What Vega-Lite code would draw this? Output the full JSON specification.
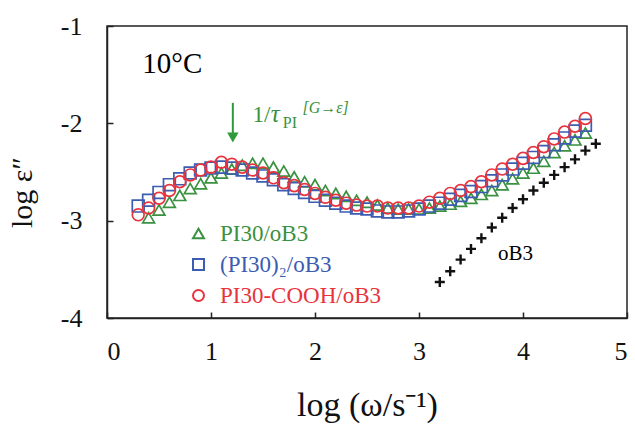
{
  "$schema": "https://vega.github.io/schema/vega-lite/v6.json",
  "autosize": {"type": "none"},
  "padding": {"left": 107, "top": 26, "right": 8, "bottom": 108},
  "width": 520,
  "height": 292,
  "background": "white",
  "config": {
    "font": "Liberation Serif",
    "view": {"stroke": "#222", "strokeWidth": 1.5},
    "axis": {"grid": false, "domainColor": "#222", "domainWidth": 1.5, "tickColor": "#222", "tickWidth": 1.5, "labelColor": "#111", "titleColor": "#111", "labelFont": "Liberation Serif", "titleFont": "Liberation Serif", "titleFontWeight": "normal"}
  },
  "datasets": {
    "series": [
      {"sample": "PI30/oB3", "logw": 0.4, "loge": -2.97},
      {"sample": "PI30/oB3", "logw": 0.5, "loge": -2.89},
      {"sample": "PI30/oB3", "logw": 0.6, "loge": -2.81},
      {"sample": "PI30/oB3", "logw": 0.7, "loge": -2.74},
      {"sample": "PI30/oB3", "logw": 0.8, "loge": -2.67},
      {"sample": "PI30/oB3", "logw": 0.9, "loge": -2.62},
      {"sample": "PI30/oB3", "logw": 1.0, "loge": -2.56},
      {"sample": "PI30/oB3", "logw": 1.1, "loge": -2.51},
      {"sample": "PI30/oB3", "logw": 1.2, "loge": -2.47},
      {"sample": "PI30/oB3", "logw": 1.3, "loge": -2.43},
      {"sample": "PI30/oB3", "logw": 1.4, "loge": -2.41},
      {"sample": "PI30/oB3", "logw": 1.5, "loge": -2.41},
      {"sample": "PI30/oB3", "logw": 1.6, "loge": -2.45},
      {"sample": "PI30/oB3", "logw": 1.7, "loge": -2.49},
      {"sample": "PI30/oB3", "logw": 1.8, "loge": -2.55},
      {"sample": "PI30/oB3", "logw": 1.9, "loge": -2.60},
      {"sample": "PI30/oB3", "logw": 2.0, "loge": -2.63},
      {"sample": "PI30/oB3", "logw": 2.1, "loge": -2.69},
      {"sample": "PI30/oB3", "logw": 2.2, "loge": -2.72},
      {"sample": "PI30/oB3", "logw": 2.3, "loge": -2.75},
      {"sample": "PI30/oB3", "logw": 2.4, "loge": -2.79},
      {"sample": "PI30/oB3", "logw": 2.5, "loge": -2.81},
      {"sample": "PI30/oB3", "logw": 2.6, "loge": -2.84},
      {"sample": "PI30/oB3", "logw": 2.7, "loge": -2.87},
      {"sample": "PI30/oB3", "logw": 2.8, "loge": -2.88},
      {"sample": "PI30/oB3", "logw": 2.9, "loge": -2.88},
      {"sample": "PI30/oB3", "logw": 3.0, "loge": -2.88},
      {"sample": "PI30/oB3", "logw": 3.1, "loge": -2.87},
      {"sample": "PI30/oB3", "logw": 3.2, "loge": -2.85},
      {"sample": "PI30/oB3", "logw": 3.3, "loge": -2.83},
      {"sample": "PI30/oB3", "logw": 3.4, "loge": -2.80},
      {"sample": "PI30/oB3", "logw": 3.5, "loge": -2.77},
      {"sample": "PI30/oB3", "logw": 3.6, "loge": -2.73},
      {"sample": "PI30/oB3", "logw": 3.7, "loge": -2.69},
      {"sample": "PI30/oB3", "logw": 3.8, "loge": -2.63},
      {"sample": "PI30/oB3", "logw": 3.9, "loge": -2.57},
      {"sample": "PI30/oB3", "logw": 4.0, "loge": -2.51},
      {"sample": "PI30/oB3", "logw": 4.1, "loge": -2.46},
      {"sample": "PI30/oB3", "logw": 4.2, "loge": -2.39},
      {"sample": "PI30/oB3", "logw": 4.3, "loge": -2.30},
      {"sample": "PI30/oB3", "logw": 4.4, "loge": -2.23},
      {"sample": "PI30/oB3", "logw": 4.5, "loge": -2.17},
      {"sample": "PI30/oB3", "logw": 4.6, "loge": -2.10},
      {"sample": "(PI30)₂/oB3", "logw": 0.3, "loge": -2.85},
      {"sample": "(PI30)₂/oB3", "logw": 0.4, "loge": -2.79},
      {"sample": "(PI30)₂/oB3", "logw": 0.5, "loge": -2.71},
      {"sample": "(PI30)₂/oB3", "logw": 0.6, "loge": -2.63},
      {"sample": "(PI30)₂/oB3", "logw": 0.7, "loge": -2.57},
      {"sample": "(PI30)₂/oB3", "logw": 0.8, "loge": -2.51},
      {"sample": "(PI30)₂/oB3", "logw": 0.9, "loge": -2.48},
      {"sample": "(PI30)₂/oB3", "logw": 1.0, "loge": -2.46},
      {"sample": "(PI30)₂/oB3", "logw": 1.1, "loge": -2.45},
      {"sample": "(PI30)₂/oB3", "logw": 1.2, "loge": -2.46},
      {"sample": "(PI30)₂/oB3", "logw": 1.3, "loge": -2.48},
      {"sample": "(PI30)₂/oB3", "logw": 1.4, "loge": -2.51},
      {"sample": "(PI30)₂/oB3", "logw": 1.5, "loge": -2.54},
      {"sample": "(PI30)₂/oB3", "logw": 1.6, "loge": -2.58},
      {"sample": "(PI30)₂/oB3", "logw": 1.7, "loge": -2.63},
      {"sample": "(PI30)₂/oB3", "logw": 1.8, "loge": -2.67},
      {"sample": "(PI30)₂/oB3", "logw": 1.9, "loge": -2.71},
      {"sample": "(PI30)₂/oB3", "logw": 2.0, "loge": -2.75},
      {"sample": "(PI30)₂/oB3", "logw": 2.1, "loge": -2.79},
      {"sample": "(PI30)₂/oB3", "logw": 2.2, "loge": -2.82},
      {"sample": "(PI30)₂/oB3", "logw": 2.3, "loge": -2.85},
      {"sample": "(PI30)₂/oB3", "logw": 2.4, "loge": -2.87},
      {"sample": "(PI30)₂/oB3", "logw": 2.5, "loge": -2.88},
      {"sample": "(PI30)₂/oB3", "logw": 2.6, "loge": -2.90},
      {"sample": "(PI30)₂/oB3", "logw": 2.7, "loge": -2.91},
      {"sample": "(PI30)₂/oB3", "logw": 2.8, "loge": -2.91},
      {"sample": "(PI30)₂/oB3", "logw": 2.9, "loge": -2.90},
      {"sample": "(PI30)₂/oB3", "logw": 3.0, "loge": -2.88},
      {"sample": "(PI30)₂/oB3", "logw": 3.1, "loge": -2.85},
      {"sample": "(PI30)₂/oB3", "logw": 3.2, "loge": -2.82},
      {"sample": "(PI30)₂/oB3", "logw": 3.3, "loge": -2.78},
      {"sample": "(PI30)₂/oB3", "logw": 3.4, "loge": -2.74},
      {"sample": "(PI30)₂/oB3", "logw": 3.5, "loge": -2.70},
      {"sample": "(PI30)₂/oB3", "logw": 3.6, "loge": -2.65},
      {"sample": "(PI30)₂/oB3", "logw": 3.7, "loge": -2.59},
      {"sample": "(PI30)₂/oB3", "logw": 3.8, "loge": -2.53},
      {"sample": "(PI30)₂/oB3", "logw": 3.9, "loge": -2.47},
      {"sample": "(PI30)₂/oB3", "logw": 4.0, "loge": -2.41},
      {"sample": "(PI30)₂/oB3", "logw": 4.1, "loge": -2.35},
      {"sample": "(PI30)₂/oB3", "logw": 4.2, "loge": -2.29},
      {"sample": "(PI30)₂/oB3", "logw": 4.3, "loge": -2.22},
      {"sample": "(PI30)₂/oB3", "logw": 4.4, "loge": -2.15},
      {"sample": "(PI30)₂/oB3", "logw": 4.5, "loge": -2.08},
      {"sample": "(PI30)₂/oB3", "logw": 4.6, "loge": -2.02},
      {"sample": "PI30-COOH/oB3", "logw": 0.3, "loge": -2.94},
      {"sample": "PI30-COOH/oB3", "logw": 0.4, "loge": -2.87},
      {"sample": "PI30-COOH/oB3", "logw": 0.5, "loge": -2.77},
      {"sample": "PI30-COOH/oB3", "logw": 0.6, "loge": -2.69},
      {"sample": "PI30-COOH/oB3", "logw": 0.7, "loge": -2.60},
      {"sample": "PI30-COOH/oB3", "logw": 0.8, "loge": -2.53},
      {"sample": "PI30-COOH/oB3", "logw": 0.9, "loge": -2.48},
      {"sample": "PI30-COOH/oB3", "logw": 1.0, "loge": -2.45},
      {"sample": "PI30-COOH/oB3", "logw": 1.1, "loge": -2.40},
      {"sample": "PI30-COOH/oB3", "logw": 1.2, "loge": -2.42},
      {"sample": "PI30-COOH/oB3", "logw": 1.3, "loge": -2.45},
      {"sample": "PI30-COOH/oB3", "logw": 1.4, "loge": -2.48},
      {"sample": "PI30-COOH/oB3", "logw": 1.5, "loge": -2.51},
      {"sample": "PI30-COOH/oB3", "logw": 1.6, "loge": -2.56},
      {"sample": "PI30-COOH/oB3", "logw": 1.7, "loge": -2.61},
      {"sample": "PI30-COOH/oB3", "logw": 1.8, "loge": -2.64},
      {"sample": "PI30-COOH/oB3", "logw": 1.9, "loge": -2.68},
      {"sample": "PI30-COOH/oB3", "logw": 2.0, "loge": -2.72},
      {"sample": "PI30-COOH/oB3", "logw": 2.1, "loge": -2.76},
      {"sample": "PI30-COOH/oB3", "logw": 2.2, "loge": -2.79},
      {"sample": "PI30-COOH/oB3", "logw": 2.3, "loge": -2.82},
      {"sample": "PI30-COOH/oB3", "logw": 2.4, "loge": -2.84},
      {"sample": "PI30-COOH/oB3", "logw": 2.5, "loge": -2.85},
      {"sample": "PI30-COOH/oB3", "logw": 2.6, "loge": -2.85},
      {"sample": "PI30-COOH/oB3", "logw": 2.7, "loge": -2.87},
      {"sample": "PI30-COOH/oB3", "logw": 2.8, "loge": -2.87},
      {"sample": "PI30-COOH/oB3", "logw": 2.9, "loge": -2.87},
      {"sample": "PI30-COOH/oB3", "logw": 3.0, "loge": -2.85},
      {"sample": "PI30-COOH/oB3", "logw": 3.1, "loge": -2.81},
      {"sample": "PI30-COOH/oB3", "logw": 3.2, "loge": -2.77},
      {"sample": "PI30-COOH/oB3", "logw": 3.3, "loge": -2.72},
      {"sample": "PI30-COOH/oB3", "logw": 3.4, "loge": -2.69},
      {"sample": "PI30-COOH/oB3", "logw": 3.5, "loge": -2.65},
      {"sample": "PI30-COOH/oB3", "logw": 3.6, "loge": -2.60},
      {"sample": "PI30-COOH/oB3", "logw": 3.7, "loge": -2.53},
      {"sample": "PI30-COOH/oB3", "logw": 3.8, "loge": -2.47},
      {"sample": "PI30-COOH/oB3", "logw": 3.9, "loge": -2.42},
      {"sample": "PI30-COOH/oB3", "logw": 4.0, "loge": -2.36},
      {"sample": "PI30-COOH/oB3", "logw": 4.1, "loge": -2.30},
      {"sample": "PI30-COOH/oB3", "logw": 4.2, "loge": -2.24},
      {"sample": "PI30-COOH/oB3", "logw": 4.3, "loge": -2.16},
      {"sample": "PI30-COOH/oB3", "logw": 4.4, "loge": -2.09},
      {"sample": "PI30-COOH/oB3", "logw": 4.5, "loge": -2.03},
      {"sample": "PI30-COOH/oB3", "logw": 4.6, "loge": -1.95}
    ],
    "ob3": [
      {"logw": 3.2, "loge": -3.63},
      {"logw": 3.3, "loge": -3.52},
      {"logw": 3.4, "loge": -3.40},
      {"logw": 3.5, "loge": -3.29},
      {"logw": 3.6, "loge": -3.18},
      {"logw": 3.7, "loge": -3.07},
      {"logw": 3.8, "loge": -2.97},
      {"logw": 3.9, "loge": -2.87},
      {"logw": 4.0, "loge": -2.78},
      {"logw": 4.1, "loge": -2.69},
      {"logw": 4.2, "loge": -2.61},
      {"logw": 4.3, "loge": -2.53},
      {"logw": 4.4, "loge": -2.45},
      {"logw": 4.5, "loge": -2.37},
      {"logw": 4.6, "loge": -2.28},
      {"logw": 4.7, "loge": -2.21}
    ]
  },
  "layer": [
    {
      "data": {"name": "series"},
      "mark": {"type": "point", "filled": false, "strokeWidth": 1.7, "size": 140, "opacity": 1},
      "encoding": {
        "x": {"field": "logw", "type": "quantitative",
              "scale": {"domain": [0, 5], "nice": false, "zero": false},
              "axis": {"values": [0, 1, 2, 3, 4, 5], "tickSize": -6, "labelPadding": 26, "labelFontSize": 26, "labelFont": "Liberation Serif", "title": "log (ω/s⁻¹)", "titleFont": "Liberation Serif", "titleFontSize": 34, "titlePadding": 24, "labelExpr": "datum.value + ''"}},
        "y": {"field": "loge", "type": "quantitative",
              "scale": {"domain": [-4, -1], "nice": false, "zero": false},
              "axis": {"values": [-4, -3, -2, -1], "tickSize": -6, "labelPadding": 31, "labelFontSize": 26, "labelFont": "Liberation Serif", "title": "log ε″", "titleFont": "Liberation Serif", "titleFontSize": 30, "titleX": -70, "titleY": 166, "labelExpr": "datum.value + ''"}},
        "color": {"field": "sample", "type": "nominal",
                  "scale": {"domain": ["PI30/oB3", "(PI30)₂/oB3", "PI30-COOH/oB3"], "range": ["#3a9140", "#3b5cb0", "#e8333d"]},
                  "legend": {"title": null, "orient": "none", "legendX": 80, "legendY": 196, "labelFontSize": 23, "labelFont": "Liberation Serif", "labelLimit": 400, "symbolSize": 120, "symbolStrokeWidth": 2, "rowPadding": 7, "labelOffset": 10,
                             "labelColor": {"expr": "scale('color', datum.value)"}}},
        "shape": {"field": "sample", "type": "nominal",
                  "scale": {"domain": ["PI30/oB3", "(PI30)₂/oB3", "PI30-COOH/oB3"], "range": ["triangle-up", "square", "circle"]}}
      }
    },
    {
      "data": {"name": "ob3"},
      "mark": {"type": "point", "shape": "M-1,0H1M0,-1V1", "filled": false, "stroke": "#111", "strokeWidth": 2.4, "size": 100, "opacity": 1},
      "encoding": {
        "x": {"field": "logw", "type": "quantitative"},
        "y": {"field": "loge", "type": "quantitative"}
      }
    },
    {
      "data": {"values": [{"x": 1.21, "y1": -1.79, "y2": -2.10}]},
      "mark": {"type": "rule", "color": "#2e9a3a", "strokeWidth": 2},
      "encoding": {"x": {"field": "x", "type": "quantitative"}, "y": {"field": "y1", "type": "quantitative"}, "y2": {"field": "y2"}}
    },
    {
      "data": {"values": [{"x": 1.21, "y": -2.145}]},
      "mark": {"type": "point", "shape": "triangle-down", "filled": true, "color": "#2e9a3a", "size": 130, "opacity": 1},
      "encoding": {"x": {"field": "x", "type": "quantitative"}, "y": {"field": "y", "type": "quantitative"}}
    },
    {
      "data": {"values": [
        {"x": 0.34, "y": -1.48, "t": "10°C", "c": "black", "fs": 29},
        {"x": 3.76, "y": -3.40, "t": "oB3", "c": "black", "fs": 21}
      ]},
      "mark": {"type": "text", "align": "left", "baseline": "alphabetic", "font": "Liberation Serif"},
      "encoding": {
        "x": {"field": "x", "type": "quantitative"},
        "y": {"field": "y", "type": "quantitative"},
        "text": {"field": "t"},
        "size": {"field": "fs", "type": "quantitative", "scale": null},
        "color": {"field": "c", "type": "nominal", "scale": null}
      }
    },
    {
      "data": {"values": [{"x": 1.40, "y": -1.99, "t": "1/"}]},
      "mark": {"type": "text", "align": "left", "baseline": "alphabetic", "font": "Liberation Serif", "fontSize": 23, "color": "#3a9140"},
      "encoding": {"x": {"field": "x", "type": "quantitative"}, "y": {"field": "y", "type": "quantitative"}, "text": {"field": "t"}}
    },
    {
      "data": {"values": [{"x": 1.575, "y": -1.99, "t": "τ"}]},
      "mark": {"type": "text", "align": "left", "baseline": "alphabetic", "font": "Liberation Serif", "fontSize": 25, "fontStyle": "italic", "color": "#3a9140"},
      "encoding": {"x": {"field": "x", "type": "quantitative"}, "y": {"field": "y", "type": "quantitative"}, "text": {"field": "t"}}
    },
    {
      "data": {"values": [{"x": 1.69, "y": -2.05, "t": "PI"}]},
      "mark": {"type": "text", "align": "left", "baseline": "alphabetic", "font": "Liberation Serif", "fontSize": 16, "color": "#3a9140"},
      "encoding": {"x": {"field": "x", "type": "quantitative"}, "y": {"field": "y", "type": "quantitative"}, "text": {"field": "t"}}
    },
    {
      "data": {"values": [{"x": 1.88, "y": -1.89, "t": "[G→ε]"}]},
      "mark": {"type": "text", "align": "left", "baseline": "alphabetic", "font": "Liberation Serif", "fontSize": 16, "fontStyle": "italic", "color": "#3a9140"},
      "encoding": {"x": {"field": "x", "type": "quantitative"}, "y": {"field": "y", "type": "quantitative"}, "text": {"field": "t"}}
    }
  ]
}
